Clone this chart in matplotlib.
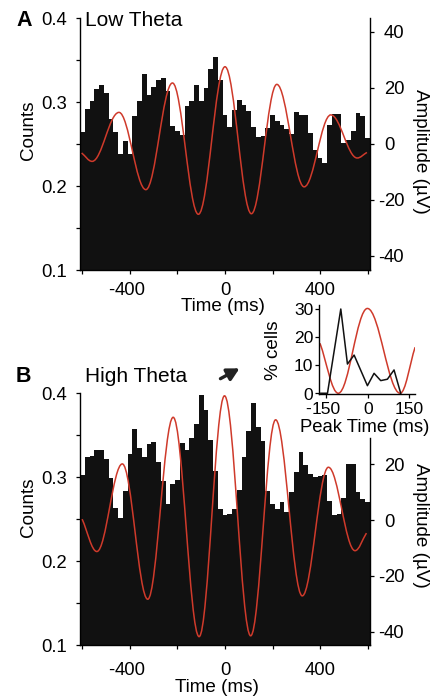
import matplotlib
matplotlib.use("Agg")
import matplotlib.pyplot as plt
from matplotlib.path import Path
from matplotlib.patches import PathPatch, FancyArrowPatch

plt.rcParams['font.family'] = ['Liberation Sans', 'DejaVu Sans']
plt.rcParams['axes.unicode_minus'] = False

# ---------------- data ----------------
bin_centers = list(range(-600, 601, 20))  # ms

counts_low = [0.264, 0.292, 0.302, 0.316, 0.320, 0.311, 0.280, 0.264, 0.238, 0.254,
              0.238, 0.284, 0.301, 0.334, 0.308, 0.318, 0.326, 0.329, 0.313, 0.272,
              0.266, 0.261, 0.296, 0.301, 0.320, 0.301, 0.317, 0.340, 0.354, 0.326,
              0.285, 0.271, 0.291, 0.303, 0.297, 0.290, 0.270, 0.258, 0.260, 0.269,
              0.285, 0.278, 0.273, 0.268, 0.262, 0.288, 0.285, 0.285, 0.263, 0.243,
              0.234, 0.227, 0.273, 0.286, 0.286, 0.251, 0.255, 0.266, 0.287, 0.283,
              0.257]

counts_high = [0.303, 0.324, 0.325, 0.333, 0.332, 0.322, 0.299, 0.263, 0.251, 0.284,
               0.328, 0.357, 0.335, 0.324, 0.339, 0.342, 0.318, 0.295, 0.268, 0.292,
               0.297, 0.341, 0.333, 0.347, 0.364, 0.398, 0.380, 0.344, 0.307, 0.262,
               0.255, 0.256, 0.262, 0.285, 0.324, 0.355, 0.389, 0.360, 0.343, 0.283,
               0.268, 0.262, 0.271, 0.258, 0.282, 0.306, 0.330, 0.315, 0.304, 0.300,
               0.302, 0.303, 0.272, 0.255, 0.256, 0.275, 0.316, 0.316, 0.282, 0.274,
               0.270]

# LFP (theta) trace: end points and successive peaks / troughs (ms, uV)
lfp_low_t = [-603, -559, -446, -333, -221, -112, 0, 111, 218, 333, 445, 556, 597]
lfp_low_v = [-3.3, -6.3, 11.2, -16.4, 21.7, -25.2, 27.5, -25.0, 21.2, -15.4, 10.3, -5.1, -3.1]

lfp_high_t = [-601, -539, -432, -325, -218, -109, -2, 108, 213, 325, 435, 547, 595]
lfp_high_v = [0.3, -11.3, 20.1, -28.4, 36.8, -41.8, 44.5, -41.5, 35.9, -27.2, 18.9, -11.0, -4.7]

# inset: distribution of peak times
peak_t = [-169, -145, -97, -73, -49, -1, 23, 47, 71, 95, 119]
peak_pct = [0, 0, 30, 10.4, 13.6, 2.7, 7.1, 4.5, 5.0, 8.3, 0]
inset_lfp_t = [-172, -106, -1, 117, 171]
inset_lfp_v = [17.8, 0, 30.2, 0, 16.4]

time_ticks = [-600, -400, -200, 0, 200, 400, 600]
time_labels = ['', '-400', '', '0', '', '400', '']
count_ticks = [0.1, 0.15, 0.2, 0.25, 0.3, 0.35, 0.4]
count_labels = ['0.1', '', '0.2', '', '0.3', '', '0.4']
amp_ticks_low = [-40, -20, 0, 20, 40]
amp_ticks_high = [-40, -20, 0, 20]
inset_xticks = [-150, 0, 150]
inset_xlabels = ['-150', '0', '150']
inset_yticks = [0, 10, 20, 30]

# ---------------- style ----------------
BAR = '#111111'
RED = '#cf3a2b'
FS = 13.3
FW, FH = 433, 698


def fx(x):
    return x / FW


def fy(y):
    return 1 - y / FH


def smooth_path(t, v):
    K = 0.3634
    verts = [(t[0], v[0])]
    codes = [Path.MOVETO]
    n = len(t)
    for i in range(n - 1):
        d = t[i + 1] - t[i]
        if i == 0:
            c1 = (t[i] + K * d, v[i] + K * (v[i + 1] - v[i]))
        else:
            c1 = (t[i] + K * d, v[i])
        if i == n - 2:
            c2 = (t[i + 1] - K * d, v[i + 1] - K * (v[i + 1] - v[i]))
        else:
            c2 = (t[i + 1] - K * d, v[i + 1])
        verts += [c1, c2, (t[i + 1], v[i + 1])]
        codes += [Path.CURVE4] * 3
    return Path(verts, codes)


def xlabels(ax, ticks, labels, off, fs=FS, digit_center=True):
    for t, lab in zip(ticks, labels):
        if not lab:
            continue
        digits = lab.lstrip('-')
        txt = digits if digit_center else lab
        ax.annotate(txt, xy=(t, 0), xycoords=('data', 'axes fraction'),
                    xytext=(0, -off), textcoords='offset points',
                    ha='center', va='baseline', fontsize=fs, annotation_clip=False)
        if digit_center and lab.startswith('-'):
            w = 0.556 * len(digits) * fs / 2
            ax.annotate('-', xy=(t, 0), xycoords=('data', 'axes fraction'),
                        xytext=(-w, -off), textcoords='offset points',
                        ha='right', va='baseline', fontsize=fs, annotation_clip=False)


def ylabels(ax, ticks, labels, off, side='left', fs=FS):
    dy = -0.358 * fs
    for t, lab in zip(ticks, labels):
        if not lab:
            continue
        if side == 'left':
            ax.annotate(lab, xy=(0, t), xycoords=('axes fraction', 'data'),
                        xytext=(-off, dy), textcoords='offset points',
                        ha='right', va='baseline', fontsize=fs, annotation_clip=False)
        else:
            digits = lab.lstrip('-')
            ax.annotate(digits, xy=(1, t), xycoords=('axes fraction', 'data'),
                        xytext=(off, dy), textcoords='offset points',
                        ha='left', va='baseline', fontsize=fs, annotation_clip=False)
            if lab.startswith('-'):
                ax.annotate('-', xy=(1, t), xycoords=('axes fraction', 'data'),
                            xytext=(off, dy), textcoords='offset points',
                            ha='right', va='baseline', fontsize=fs, annotation_clip=False)


def style_axis(ax):
    for s in ['top', 'right']:
        ax.spines[s].set_visible(False)
    for s in ['left', 'bottom']:
        ax.spines[s].set_linewidth(1.0)
    ax.tick_params(direction='out', length=3.2, width=0.9,
                   labelbottom=False, labelleft=False)


fig = plt.figure(figsize=(FW / 100, FH / 100), dpi=100)

panels = [
    dict(top=18.3, counts=counts_low, t=lfp_low_t, v=lfp_low_v, amp_ticks=amp_ticks_low,
         amp_lim=(-45.1, 44.8), spine_top=44.8, xoff=18.0, title='Low Theta', letter='A',
         title_base=25.5, time_xy=(222.5, 310.7), counts_y=130, amp_y=151),
    dict(top=393.3, counts=counts_high, t=lfp_high_t, v=lfp_high_v, amp_ticks=amp_ticks_high,
         amp_lim=(-44.8, 45.4), spine_top=29.3, xoff=21.6, title='High Theta', letter='B',
         title_base=381.5, time_xy=(217, 691.7), counts_y=507, amp_y=525),
]

for p in panels:
    ax = fig.add_axes([fx(80), fy(p['top'] + 251.7), 290 / FW, 251.7 / FH])
    ax.bar(bin_centers, p['counts'], width=20, color=BAR, linewidth=0)
    ax.set_xlim(-610, 610)
    ax.set_ylim(0.1, 0.4)
    style_axis(ax)
    ax.set_xticks(time_ticks)
    ax.set_yticks(count_ticks)
    xlabels(ax, time_ticks, time_labels, p['xoff'])
    ylabels(ax, count_ticks, count_labels, 9.6, 'left')

    ax2 = ax.twinx()
    ax2.set_ylim(*p['amp_lim'])
    ax2.set_xlim(-610, 610)
    for s in ['top', 'left', 'bottom']:
        ax2.spines[s].set_visible(False)
    ax2.spines['right'].set_linewidth(1.0)
    ax2.spines['right'].set_bounds(p['amp_lim'][0], p['spine_top'])
    ax2.set_yticks(p['amp_ticks'])
    ax2.tick_params(direction='out', length=3.2, width=0.9, labelright=False)
    ylabels(ax2, p['amp_ticks'], [str(a) for a in p['amp_ticks']], 10.0, 'right')
    ax2.add_patch(PathPatch(smooth_path(p['t'], p['v']), fill=False,
                            edgecolor=RED, lw=1.1, transform=ax2.transData))

    fig.text(fx(16), fy(p['title_base'] + 0.5), p['letter'], fontsize=15.5,
             fontweight='bold', ha='left', va='baseline')
    fig.text(fx(85), fy(p['title_base']), p['title'], fontsize=15,
             ha='left', va='baseline')
    fig.text(fx(p['time_xy'][0]), fy(p['time_xy'][1]), 'Time (ms)', fontsize=13.6,
             ha='center', va='baseline')
    fig.text(fx(28.3), fy(p['counts_y']), 'Counts', fontsize=13.6, rotation=90,
             ha='center', va='center')
    fig.text(fx(421), fy(p['amp_y']), 'Amplitude (\u00b5V)', fontsize=13.6,
             rotation=-90, ha='center', va='center')

# ---------------- inset ----------------
axI = fig.add_axes([fx(319.3), fy(394.1), 95.7 / FW, 89.3 / FH])
axI.plot(inset_lfp_t, inset_lfp_v, alpha=0)
axI.add_patch(PathPatch(smooth_path(inset_lfp_t, inset_lfp_v), fill=False,
                        edgecolor=RED, lw=1.1, transform=axI.transData))
axI.plot(peak_t, peak_pct, color=BAR, lw=1.1)
axI.set_xlim(-174.5, 170.6)
axI.set_ylim(-0.3, 31.5)
style_axis(axI)
axI.set_xticks(inset_xticks)
axI.set_yticks(inset_yticks)
xlabels(axI, inset_xticks, inset_xlabels, 14.0, fs=12.6, digit_center=True)
ylabels(axI, inset_yticks, [str(v) for v in inset_yticks], 4.3, 'left', fs=12.6)
fig.text(fx(364.2), fy(431.5), 'Peak Time (ms)', fontsize=13.3, ha='center', va='baseline')
fig.text(fx(273), fy(350), '% cells', fontsize=13.6, rotation=90, ha='center', va='center')

# arrow pointing at inset
fig.patches.append(FancyArrowPatch((fx(218), fy(380)), (fx(242), fy(367)),
                                   transform=fig.transFigure,
                                   arrowstyle='-|>,head_length=0.6,head_width=0.32',
                                   mutation_scale=12, lw=2.4, color='#222222'))

fig.savefig('out.png', dpi=100)
